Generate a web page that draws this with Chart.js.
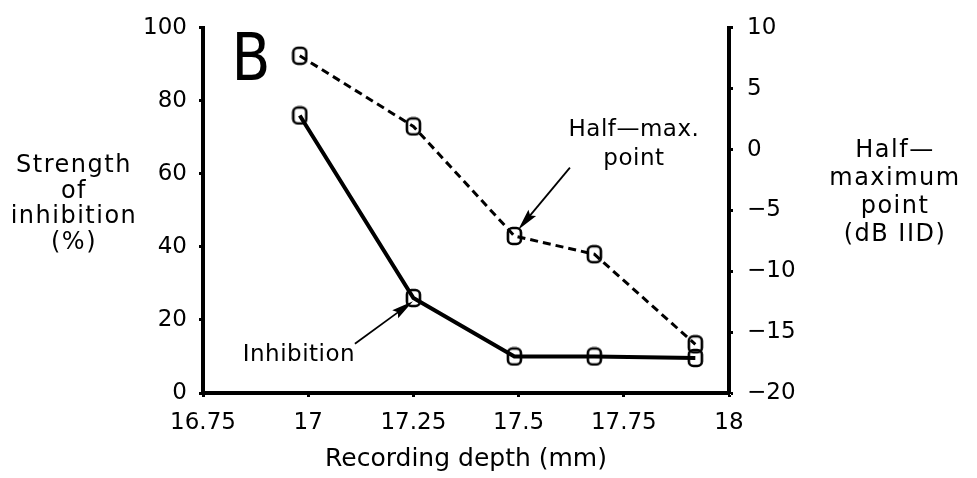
<!DOCTYPE html>
<html>
<head>
<meta charset="utf-8">
<script src="https://cdn.jsdelivr.net/npm/chart.js@4/dist/chart.umd.min.js"></script>
<style>
  html, body { margin: 0; padding: 0; background: #fff; }
  #chart { display: block; }
</style>
</head>
<body>
<canvas id="chart" width="977" height="478"></canvas>
<script>
// recording depths (mm), shared by both series
const depths = [16.98, 17.25, 17.49, 17.68, 17.92];
// strength of inhibition (%), left axis
const inhibition = [76, 26, 10, 10, 9.6];
// half-maximum point (dB IID), right axis
const halfMax = [7.7, 1.9, -7.1, -8.6, -16.0];

const xTickValues = [16.75, 17, 17.25, 17.5, 17.75, 18];
const xTickLabels = ['16.75', '17', '17.25', '17.5', '17.75', '18'];
const leftTickValues = [0, 20, 40, 60, 80, 100];
const rightTickValues = [-20, -15, -10, -5, 0, 5, 10];

const leftTitle = ['Strength', 'of', 'inhibition', '(%)'];
const rightTitle = ['Half\u2014', 'maximum', 'point', '(dB IID)'];
const xTitle = 'Recording depth (mm)';

const FONT = 'DejaVu Sans';

// open rounded-rect marker like the "0" symbols in the figure
function makeMarker() {
  const c = document.createElement('canvas');
  c.width = 17;
  c.height = 20;
  const g = c.getContext('2d');
  g.lineWidth = 2.6;
  g.strokeStyle = '#000';
  g.beginPath();
  g.roundRect(2, 2, 13, 16, 4.5);
  g.stroke();
  return c;
}
const marker = makeMarker();

function drawArrow(ctx, x0, y0, x1, y1, headLen, headW) {
  const a = Math.atan2(y1 - y0, x1 - x0);
  ctx.save();
  ctx.strokeStyle = '#000';
  ctx.fillStyle = '#000';
  ctx.lineWidth = 1.8;
  ctx.beginPath();
  ctx.moveTo(x0, y0);
  ctx.lineTo(x1 - Math.cos(a) * headLen * 0.6, y1 - Math.sin(a) * headLen * 0.6);
  ctx.stroke();
  ctx.translate(x1, y1);
  ctx.rotate(a);
  ctx.beginPath();
  ctx.moveTo(0, 0);
  ctx.lineTo(-headLen, -headW / 2);
  ctx.lineTo(-headLen * 0.85, 0);
  ctx.lineTo(-headLen, headW / 2);
  ctx.closePath();
  ctx.fill();
  ctx.restore();
}

// labels, arrows and the horizontal axis titles
const annotations = {
  id: 'annotations',
  afterDraw(chart) {
    const { ctx, chartArea, scales } = chart;
    const x = scales.x, y = scales.y;
    ctx.save();
    ctx.fillStyle = '#000';
    ctx.textBaseline = 'middle';
    ctx.textAlign = 'center';

    // panel letter
    ctx.save();
    ctx.translate(x.getPixelForValue(16.864), y.getPixelForValue(91));
    ctx.scale(0.86, 1);
    ctx.font = `66px ${FONT}`;
    ctx.fillText('B', 0, 2);
    ctx.restore();

    ctx.font = `23px ${FONT}`;
    ctx.letterSpacing = '0.5px';
    ctx.fillText('Half\u2014max.', x.getPixelForValue(17.774), y.getPixelForValue(72));
    ctx.fillText('point', x.getPixelForValue(17.774), y.getPixelForValue(64.2));
    ctx.fillText('Inhibition', x.getPixelForValue(16.978), y.getPixelForValue(10.5));

    drawArrow(ctx, x.getPixelForValue(17.622), y.getPixelForValue(61.7),
      x.getPixelForValue(17.499), y.getPixelForValue(44.7), 22, 10);
    drawArrow(ctx, x.getPixelForValue(17.111), y.getPixelForValue(13.5),
      x.getPixelForValue(17.249), y.getPixelForValue(25.1), 22, 10);

    // axis titles, written horizontally as in the figure
    ctx.font = `24px ${FONT}`;
    ctx.letterSpacing = '1.5px';
    const mid = (chartArea.top + chartArea.bottom) / 2;
    const lh = 25.5;
    leftTitle.forEach((t, i) => {
      ctx.fillText(t, 74, mid - 6 + (i - 1.5) * lh);
    });
    const lh2 = 28;
    rightTitle.forEach((t, i) => {
      ctx.fillText(t, 895, mid - 18 + (i - 1.5) * lh2);
    });
    ctx.restore();
  }
};

const axisGrid = {
  drawOnChartArea: false,
  color: '#000',
  tickLength: 4,
  tickWidth: 3
};
const axisBorder = { color: '#000', width: 4 };
const tickFont = { family: FONT, size: 23 };

new Chart(document.getElementById('chart').getContext('2d'), {
  type: 'line',
  data: {
    datasets: [
      {
        label: 'Inhibition',
        data: depths.map((d, i) => ({ x: d, y: inhibition[i] })),
        yAxisID: 'y',
        borderColor: '#000',
        borderWidth: 4,
        pointStyle: marker,
        pointRadius: 8,
        tension: 0
      },
      {
        label: 'Half-max. point',
        data: depths.map((d, i) => ({ x: d, y: halfMax[i] })),
        yAxisID: 'y1',
        borderColor: '#000',
        borderWidth: 3,
        borderDash: [8, 5],
        pointStyle: marker,
        pointRadius: 8,
        tension: 0
      }
    ]
  },
  options: {
    responsive: false,
    animation: false,
    devicePixelRatio: 1,
    layout: { padding: { top: 22, left: 0, right: 0, bottom: 0 } },
    plugins: {
      legend: { display: false },
      tooltip: { enabled: false }
    },
    scales: {
      x: {
        type: 'linear',
        min: 16.75,
        max: 18,
        grid: axisGrid,
        border: axisBorder,
        afterBuildTicks: (s) => { s.ticks = xTickValues.map(v => ({ value: v })); },
        afterFit: (s) => { s.height = 85; },
        ticks: {
          color: '#000',
          font: tickFont,
          padding: 12,
          maxRotation: 0,
          callback: (v, i) => xTickLabels[i]
        },
        title: {
          display: true,
          text: xTitle,
          color: '#000',
          font: { family: FONT, size: 25 },
          padding: { top: 0, bottom: 4 }
        }
      },
      y: {
        position: 'left',
        min: 0,
        max: 100,
        grid: axisGrid,
        border: axisBorder,
        afterBuildTicks: (s) => { s.ticks = leftTickValues.map(v => ({ value: v })); },
        afterFit: (s) => { s.width = 203; },
        ticks: { color: '#000', font: tickFont, padding: 12 }
      },
      y1: {
        position: 'right',
        min: -20,
        max: 10,
        grid: axisGrid,
        border: axisBorder,
        afterBuildTicks: (s) => { s.ticks = rightTickValues.map(v => ({ value: v })); },
        afterFit: (s) => { s.width = 248; },
        ticks: {
          color: '#000',
          font: tickFont,
          padding: 14,
          callback: (v) => (v < 0 ? '\u2212' + Math.abs(v) : String(v))
        }
      }
    }
  },
  plugins: [annotations]
});
</script>
</body>
</html>
